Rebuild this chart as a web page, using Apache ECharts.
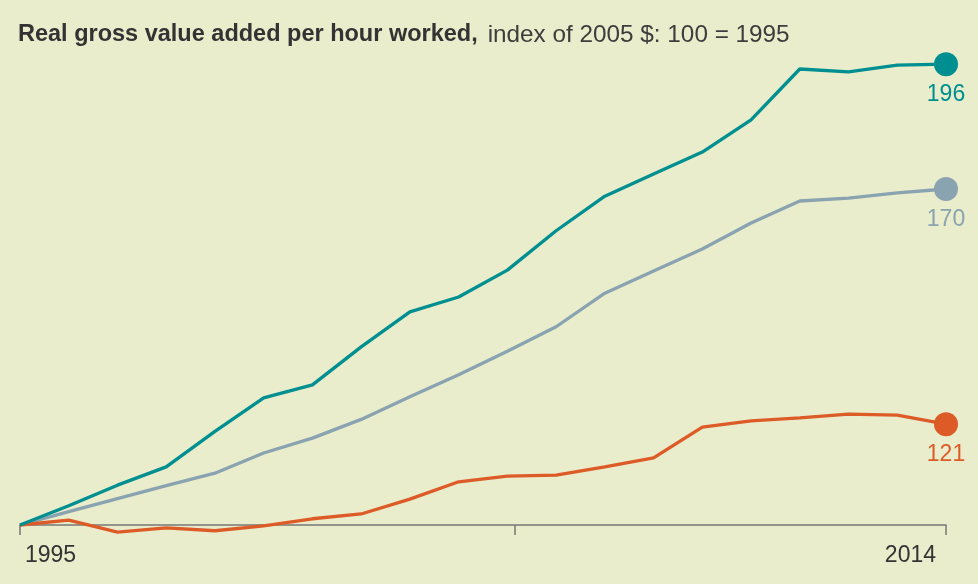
<!DOCTYPE html>
<html>
<head>
<meta charset="utf-8">
<script src="https://cdn.jsdelivr.net/npm/echarts@6/dist/echarts.min.js"></script>
<style>
html,body{margin:0;padding:0;background:#e9edcb;}
#chart{width:978px;height:584px;}
</style>
</head>
<body>
<div id="chart"></div>
<script>
const years = [1995,1996,1997,1998,1999,2000,2001,2002,2003,2004,2005,2006,2007,2008,2009,2010,2011,2012,2013,2014];
const tealValues = [100,104.0,108.3,112.1,119.5,126.5,129.2,137.1,144.4,147.5,153.1,161.3,168.5,173.1,177.7,184.4,195.0,194.4,195.8,196];
const greyValues = [100,102.8,105.5,108.2,110.8,115.0,118.1,122.0,126.7,131.3,136.2,141.3,148.3,152.9,157.5,162.9,167.5,168.1,169.2,170];
const orangeValues = [100,101.0,98.5,99.4,98.8,99.8,101.3,102.3,105.4,109.0,110.2,110.4,112.1,114.0,120.4,121.7,122.3,123.1,122.9,121];
const tickYears = [1995, 2005.15, 2014];
const labelYears = [1995, 2014];
const titleBold = 'Real gross value added per hour worked,';
const titleNormal = 'index of 2005 $: 100 = 1995';

const FONT = '"Liberation Sans", Arial, Helvetica, sans-serif';

function build(vals, color) {
  return years.map((y, i) => {
    if (i === years.length - 1) {
      return {
        value: [y, vals[i]],
        symbol: 'circle',
        symbolSize: 24,
        itemStyle: { color: color },
        label: {
          show: true,
          position: 'bottom',
          distance: 7,
          color: color,
          fontSize: 23,
          fontFamily: FONT,
          formatter: String(Math.round(vals[i]))
        }
      };
    }
    return { value: [y, vals[i]], symbol: 'none' };
  });
}

function line(name, vals, color) {
  return {
    name: name,
    type: 'line',
    data: build(vals, color),
    clip: false,
    showSymbol: true,
    lineStyle: { color: color, width: 3.3 },
    itemStyle: { color: color },
    silent: true,
    animation: false
  };
}

const chart = echarts.init(document.getElementById('chart'), null, { renderer: 'canvas' });
chart.setOption({
  backgroundColor: '#e9edcb',
  animation: false,
  title: {
    left: 13,
    top: 18,
    text: '{b|' + titleBold + '}  {n|' + titleNormal + '}',
    textStyle: {
      rich: {
        b: { fontFamily: FONT, fontSize: 23.5, fontWeight: 'bold', color: '#333333' },
        n: { fontFamily: FONT, fontSize: 24.3, fontWeight: 'normal', color: '#3d3d3d' }
      }
    }
  },
  grid: { left: 20, right: 32, top: 45, bottom: 59 },
  xAxis: {
    type: 'value',
    min: 1995,
    max: 2014,
    axisLine: { show: true, lineStyle: { color: '#777777', width: 1.5 } },
    axisTick: { show: true, customValues: tickYears, length: 10, lineStyle: { color: '#777777', width: 1.5 } },
    axisLabel: {
      customValues: labelYears,
      alignMinLabel: 'left',
      alignMaxLabel: 'right',
      margin: 19,
      fontFamily: FONT,
      fontSize: 23,
      color: '#333333',
      formatter: function (v) { return v === 2014 ? '{r|' + v + '}' : '{l|' + v + '}'; },
      rich: {
        l: { fontFamily: FONT, fontSize: 23, color: '#333333', padding: [0, 0, 0, 5] },
        r: { fontFamily: FONT, fontSize: 23, color: '#333333', padding: [0, 10, 0, 0] }
      }
    },
    splitLine: { show: false }
  },
  yAxis: {
    type: 'value',
    min: 100,
    max: 200,
    show: false,
    splitLine: { show: false }
  },
  series: [
    line('grey', greyValues, '#8aa3b1'),
    line('orange', orangeValues, '#dc5b27'),
    line('teal', tealValues, '#008f91')
  ]
});
</script>
</body>
</html>
